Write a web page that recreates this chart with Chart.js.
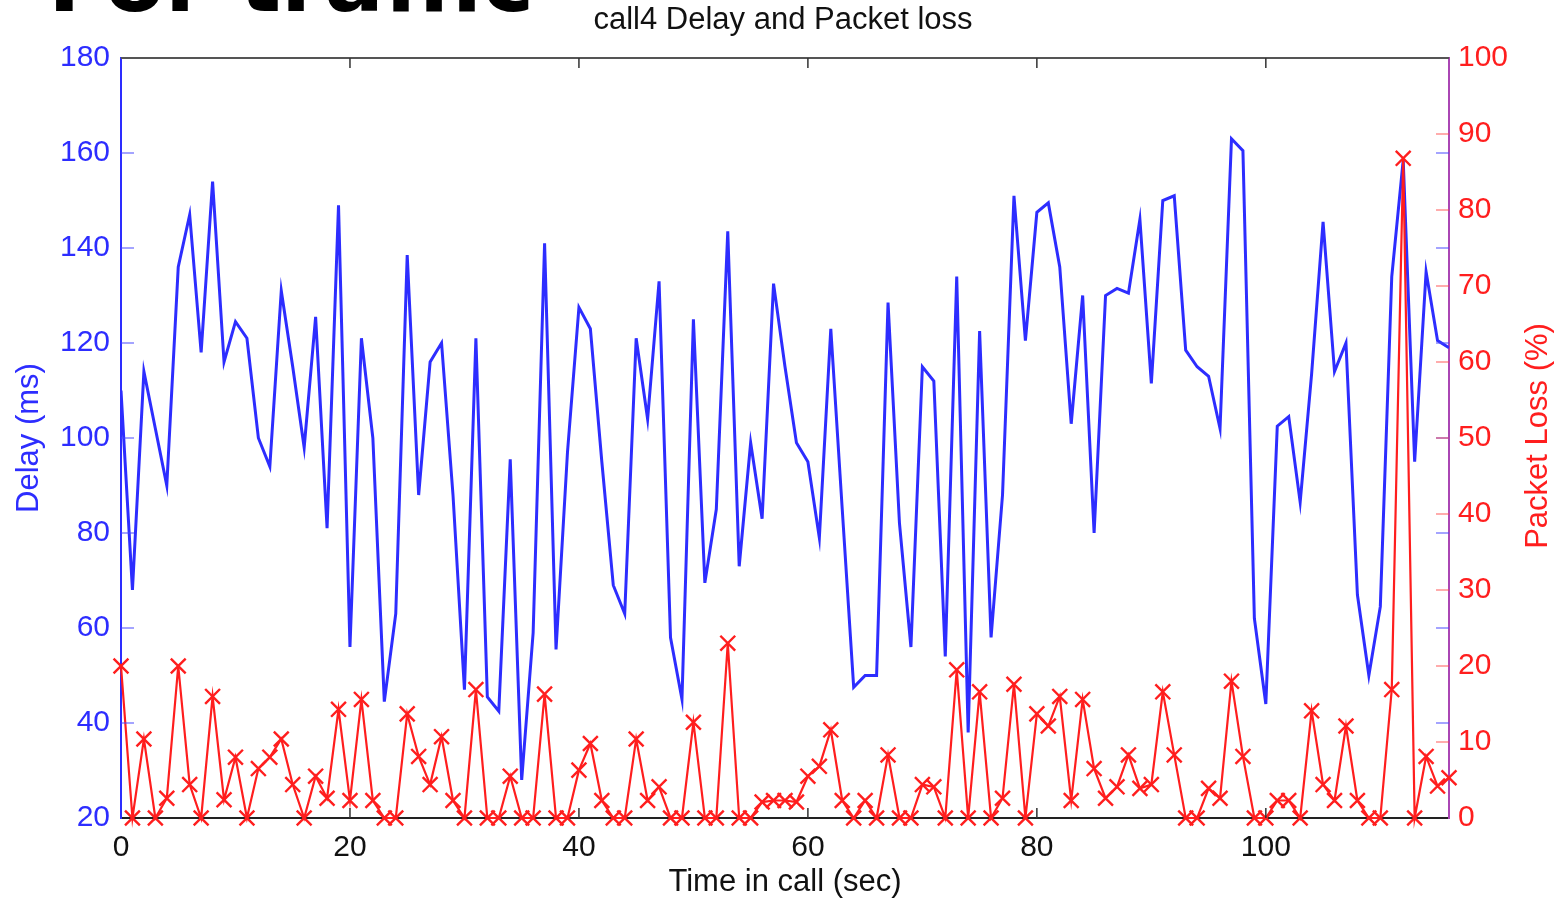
<!DOCTYPE html>
<html lang="en">
<head>
  <meta charset="UTF-8">
  <title>call4 Delay and Packet loss</title>
  <script src="https://cdn.jsdelivr.net/npm/chart.js"></script>
  <style>
    body { margin: 0; background: #fff; }
    canvas { display: block; }
  </style>
</head>
<body>
  <canvas id="chartCall4" width="1566" height="901"></canvas>

  <script>
    // time in call (sec), one sample per second
    const timeSec = [
      0, 1, 2, 3, 4, 5, 6, 7, 8, 9, 10, 11, 12, 13, 14, 15, 16, 17, 18, 19,
      20, 21, 22, 23, 24, 25, 26, 27, 28, 29, 30, 31, 32, 33, 34, 35, 36, 37, 38, 39,
      40, 41, 42, 43, 44, 45, 46, 47, 48, 49, 50, 51, 52, 53, 54, 55, 56, 57, 58, 59,
      60, 61, 62, 63, 64, 65, 66, 67, 68, 69, 70, 71, 72, 73, 74, 75, 76, 77, 78, 79,
      80, 81, 82, 83, 84, 85, 86, 87, 88, 89, 90, 91, 92, 93, 94, 95, 96, 97, 98, 99,
      100, 101, 102, 103, 104, 105, 106, 107, 108, 109, 110, 111, 112, 113, 114, 115, 116
    ];

    // delay (ms)
    const delayMs = [
      110, 68, 114, 102, 90, 136, 147, 118, 154, 116, 124.5, 121, 100, 94, 131, 115, 98, 125.5, 81, 149,
      56, 121, 100, 44.5, 63, 138.5, 88, 116, 120, 88, 47, 121, 45.5, 42.5, 95.5, 28, 59, 141, 55.5, 97,
      127.5, 123, 95, 69, 63, 121, 104, 133, 58, 45, 125, 69.5, 85, 143.5, 73, 99, 83, 132.5, 115, 99,
      95, 79, 123, 85, 47.5, 50, 50, 128.5, 82, 56, 115, 112, 54, 134, 38, 122.5, 58, 88, 151, 120.5,
      147.5, 149.5, 136, 103, 130, 80, 130, 131.5, 130.5, 146, 111.5, 150, 151, 118.5, 115, 113, 102, 163, 160.5, 62,
      44, 102.5, 104.5, 86.5, 113.5, 145.5, 114, 120, 67, 50, 64.5, 134, 158.5, 95, 135, 120.5, 119
    ];

    // packet loss (%)
    const lossPct = [
      20, 0, 10.4, 0, 2.6, 20, 4.4, 0, 16, 2.4, 8, 0, 6.5, 8, 10.4, 4.4, 0, 5.5, 2.6, 14.3,
      2.3, 15.6, 2.3, 0, 0, 13.7, 8.1, 4.4, 10.7, 2.3, 0, 16.9, 0, 0, 5.5, 0, 0, 16.3, 0, 0,
      6.3, 9.8, 2.3, 0, 0, 10.4, 2.3, 4.1, 0, 0, 12.6, 0, 0, 23, 0, 0, 2.1, 2.3, 2.3, 2.1,
      5.5, 6.8, 11.6, 2.3, 0, 2.3, 0, 8.3, 0, 0, 4.4, 4.1, 0, 19.5, 0, 16.6, 0, 2.6, 17.6, 0,
      13.7, 12.1, 16, 2.3, 15.6, 6.5, 2.6, 4.1, 8.3, 3.9, 4.4, 16.6, 8.3, 0, 0, 3.9, 2.6, 18, 8.1, 0,
      0, 2.3, 2.3, 0, 14.1, 4.4, 2.3, 12.1, 2.3, 0, 0, 16.9, 86.8, 0, 8.1, 4.2, 5.3
    ];

    const BLUE = 'rgb(45,45,255)';
    const RED = 'rgb(255,30,30)';
    const FONT = "'Liberation Sans', Arial, sans-serif";

    // matlab style frame: inside tick marks, top border, right label, heading
    const framePlugin = {
      id: 'frame',
      afterDraw(chart) {
        const ctx = chart.ctx;
        const ca = chart.chartArea;
        const sx = chart.scales.x, sd = chart.scales.yDelay, sl = chart.scales.yLoss;
        ctx.save();

        ctx.strokeStyle = '#555';
        ctx.lineWidth = 2;
        ctx.beginPath();
        ctx.moveTo(ca.left, ca.top);
        ctx.lineTo(ca.right, ca.top);
        ctx.stroke();

        ctx.lineWidth = 1.5;
        ctx.strokeStyle = '#333';
        sx.ticks.forEach(t => {
          const px = sx.getPixelForValue(t.value);
          if (px <= ca.left + 2 || px >= ca.right - 2) return;
          ctx.beginPath();
          ctx.moveTo(px, ca.bottom); ctx.lineTo(px, ca.bottom - 10);
          ctx.moveTo(px, ca.top); ctx.lineTo(px, ca.top + 10);
          ctx.stroke();
        });

        ctx.strokeStyle = 'rgba(70,70,255,0.65)';
        sd.ticks.forEach(t => {
          const py = sd.getPixelForValue(t.value);
          if (py <= ca.top + 2 || py >= ca.bottom - 2) return;
          ctx.beginPath();
          ctx.moveTo(ca.left, py); ctx.lineTo(ca.left + 13, py);
          ctx.moveTo(ca.right, py); ctx.lineTo(ca.right - 13, py);
          ctx.stroke();
        });

        ctx.strokeStyle = 'rgba(255,70,70,0.6)';
        sl.ticks.forEach(t => {
          const py = sl.getPixelForValue(t.value);
          if (py <= ca.top + 2 || py >= ca.bottom - 2) return;
          ctx.beginPath();
          ctx.moveTo(ca.right, py); ctx.lineTo(ca.right - 13, py);
          ctx.stroke();
        });

        // right axis title reads bottom to top like the left one
        ctx.fillStyle = RED;
        ctx.font = '31px ' + FONT;
        ctx.textAlign = 'center';
        ctx.textBaseline = 'middle';
        ctx.translate(1538, 436);
        ctx.rotate(-Math.PI / 2);
        ctx.fillText('Packet Loss (%)', 0, 0);
        ctx.restore();

        // slide heading cut off at the top
        ctx.save();
        ctx.fillStyle = '#000';
        ctx.font = "bold 88px 'DejaVu Sans', sans-serif";
        ctx.textAlign = 'left';
        ctx.textBaseline = 'alphabetic';
        ctx.fillText('For traffic', 48, 11);
        ctx.restore();
      }
    };

    new Chart(document.getElementById('chartCall4'), {
      type: 'line',
      data: {
        datasets: [
          {
            label: 'Packet loss',
            yAxisID: 'yLoss',
            data: timeSec.map((t, i) => ({ x: t, y: lossPct[i] })),
            borderColor: RED,
            borderWidth: 2.2,
            pointStyle: 'crossRot',
            pointRadius: 10.5,
            pointBorderWidth: 2.4,
            pointBorderColor: RED,
            pointBackgroundColor: RED,
            tension: 0,
            clip: false,
            order: 0
          },
          {
            label: 'Delay',
            yAxisID: 'yDelay',
            data: timeSec.map((t, i) => ({ x: t, y: delayMs[i] })),
            borderColor: BLUE,
            borderWidth: 3,
            pointRadius: 0,
            tension: 0,
            order: 1
          }
        ]
      },
      options: {
        responsive: false,
        animation: false,
        layout: { padding: 0 },
        plugins: {
          legend: { display: false },
          tooltip: { enabled: false },
          title: {
            display: true,
            text: 'call4 Delay and Packet loss',
            color: '#111',
            font: { family: FONT, size: 31, weight: 'normal' },
            padding: { top: 2, bottom: 18.8 }
          }
        },
        scales: {
          x: {
            type: 'linear',
            min: 0,
            max: 116,
            grid: { display: false },
            border: { color: '#222', width: 2 },
            ticks: {
              stepSize: 20,
              includeBounds: false,
              color: '#111',
              padding: 4,
              maxRotation: 0,
              font: { family: FONT, size: 30 }
            },
            title: {
              display: true,
              text: 'Time in call (sec)',
              color: '#111',
              padding: 0,
              font: { family: FONT, size: 31 }
            },
            afterFit(scale) { scale.height = 83; }
          },
          yDelay: {
            position: 'left',
            min: 20,
            max: 180,
            grid: { display: false },
            border: { color: BLUE, width: 2 },
            ticks: {
              stepSize: 20,
              color: BLUE,
              padding: 3,
              font: { family: FONT, size: 30 }
            },
            title: {
              display: true,
              text: 'Delay (ms)',
              color: BLUE,
              padding: { top: 11, bottom: 0 },
              font: { family: FONT, size: 31 }
            },
            afterFit(scale) { scale.width = 121; }
          },
          yLoss: {
            position: 'right',
            min: 0,
            max: 100,
            grid: { display: false },
            border: { color: 'rgb(170,70,180)', width: 2 },
            ticks: {
              stepSize: 10,
              color: RED,
              padding: 1,
              font: { family: FONT, size: 30 }
            },
            afterFit(scale) { scale.width = 117; }
          }
        }
      },
      plugins: [framePlugin]
    });
  </script>
</body>
</html>
